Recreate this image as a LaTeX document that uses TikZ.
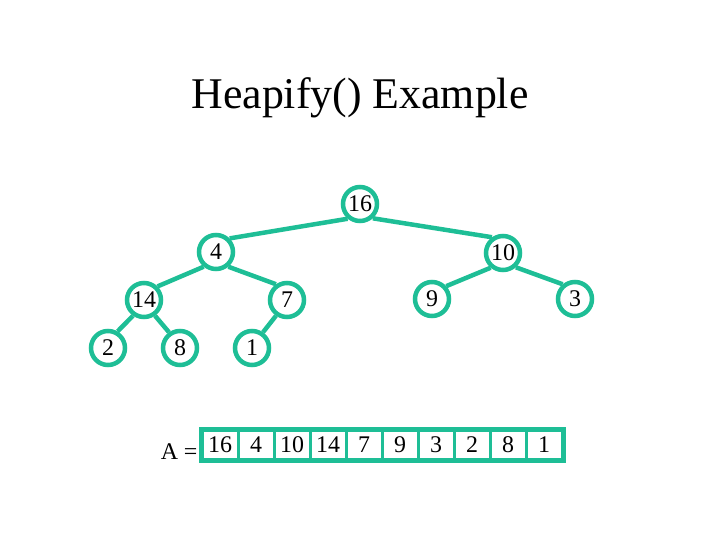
\documentclass[tikz,border=0pt]{standalone}
\usepackage{fontspec}
\setmainfont{Liberation Serif}
\definecolor{teal1}{RGB}{30,190,150}
\begin{document}
\begin{tikzpicture}[x=1bp,y=-1bp,
  hnode/.style={circle,draw=teal1,line width=4.5bp,fill=white,minimum size=34bp,inner sep=0pt,font=\fontsize{24}{24}\selectfont},
  edge/.style={draw=teal1,line width=4.5bp},
  cell/.style={rectangle,draw=teal1,line width=3bp,minimum width=36bp,minimum height=29bp,inner sep=0pt,font=\fontsize{24}{24}\selectfont}]
\useasboundingbox (0,0) rectangle (720,540);
\node (title) at (360,98) {\fontsize{44}{44}\selectfont Heapify() Example};
\node[hnode] (n16) at (360,204) {16};
\node[hnode] (n4) at (216,252) {4};
\node[hnode] (n10) at (503,253) {10};
\node[hnode] (n14) at (144,300) {14};
\node[hnode] (n7) at (287,300) {7};
\node[hnode] (n9) at (432,299) {9};
\node[hnode] (n3) at (575,299) {3};
\node[hnode] (n2) at (108,348) {2};
\node[hnode] (n8) at (180,348) {8};
\node[hnode] (n1) at (252,348) {1};
\path[edge] (n16.230) -- (n4.45) (n16.312) -- (n10.125)
  (n4.230) -- (n14.45) (n4.310) -- (n7.125)
  (n10.230) -- (n9.42) (n10.312) -- (n3.130)
  (n14.235) -- (n2.60) (n14.305) -- (n8.125) (n7.235) -- (n1.55);
\node[font=\fontsize{24}{24}\selectfont,anchor=east] (alabel) at (201,452) {A =};
\foreach \v [count=\i from 0] in {16,4,10,14,7,9,3,2,8,1}{
  \node[cell] (c\i) at (220+\i*36,444.5) {\v};
}
\draw[teal1,line width=4bp] (c0.north west) rectangle (c9.south east);
\end{tikzpicture}
\end{document}
